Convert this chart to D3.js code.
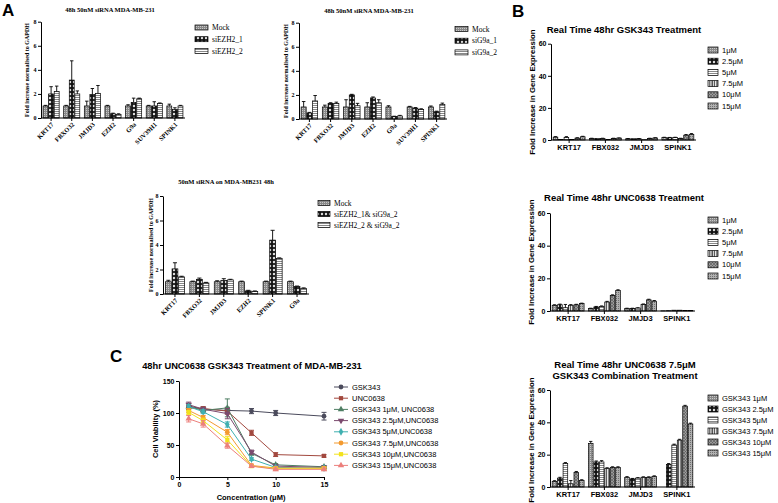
<!DOCTYPE html>
<html><head><meta charset="utf-8">
<script src="https://cdn.jsdelivr.net/npm/d3@7"></script>
<style>body{margin:0;background:#fff}svg{display:block}</style>
</head><body><svg id="c" width="778" height="503"></svg>
<script>
// ---------------- DATA ----------------
// Panel A (top-left)
const a1Cats = ["KRT17","FBXO32","JMJD3","EZH2","G9a","SUV39H1","SPINK1"];
const a1Series = ["Mock","siEZH2_1","siEZH2_2"];
const a1Vals = [
  [1.0,1.0,1.0,1.0,1.0,1.0,1.0],
  [2.0,3.15,1.95,0.35,1.3,1.0,0.7],
  [2.2,2.0,2.05,0.3,1.6,1.2,1.0]];
const a1Errs = [
  [0.05,0.05,0.4,0.05,0.1,0.05,0.15],
  [0.6,1.6,0.5,0.05,0.35,0.35,0.15],
  [0.45,0.25,0.65,0.05,0.05,0.05,0.05]];
// Panel A (top-right)
const a2Cats = ["KRT17","FBXO32","JMJD3","EZH2","G9a","SUV39H1","SPINK1"];
const a2Series = ["Mock","siG9a_1","siG9a_2"];
const a2Vals = [
  [1.0,1.0,1.0,1.0,1.0,1.0,1.0],
  [0.5,1.3,2.0,1.75,0.2,0.9,0.6],
  [1.5,1.3,1.1,1.35,0.25,0.8,1.2]];
const a2Errs = [
  [0.45,0.15,0.6,0.35,0.1,0.05,0.08],
  [0.05,0.05,0.05,0.08,0.03,0.05,0.05],
  [0.45,0.1,0.2,0.25,0.05,0.05,0.12]];
// Panel A (bottom)
const a3Cats = ["KRT17","FBXO32","JMJD3","EZH2","SPINK1","G9a"];
const a3Series = ["Mock","siEZH2_1& siG9a_2","siEZH2_2 & siG9a_2"];
const a3Vals = [
  [1.0,1.0,1.0,1.0,1.0,1.0],
  [2.05,1.2,1.1,0.25,4.4,0.6],
  [1.4,0.9,1.15,0.2,2.9,0.45]];
const a3Errs = [
  [0.12,0.05,0.08,0.05,0.05,0.05],
  [0.5,0.1,0.15,0.05,0.8,0.05],
  [0.05,0.05,0.05,0.05,0.05,0.05]];
const aTicks = [0,2,4,6,8];
// Panel B
const bCats = ["KRT17","FBX032","JMJD3","SPINK1"];
const bDoses = ["1μM","2.5μM","5μM","7.5μM","10μM","15μM"];
const bComboNames = ["GSK343 1μM","GSK343 2.5μM","GSK343 5μM","GSK343 7.5μM","GSK343 10μM","GSK343 15μM"];
const bGskVals = [
  [1.8,1.0,0.8,1.5],[0.3,1.0,0.8,1.4],[1.6,1.0,0.8,1.5],
  [0.3,0.3,0.2,1.0],[1.2,1.0,1.0,3.0],[2.0,1.2,1.3,3.5]];
const bGskErrs = [
  [0.3,0.1,0.1,0.2],[0,0,0,0.2],[0.5,0.1,0.1,0.2],
  [0,0,0,0.1],[0.2,0.1,0.1,0.4],[0.3,0.1,0.1,0.5]];
const bUncVals = [
  [3.5,1.5,1.5,0.1],[3.8,2.5,1.5,0.2],[2.0,2.8,1.8,0.5],
  [3.5,5.5,4.0,0.5],[3.8,9.5,6.8,0.4],[4.5,12.5,6.0,0.3]];
const bUncErrs = [
  [0.3,0.2,0.2,0],[0.4,0.3,0.2,0],[2.0,0.3,0.2,0],
  [0.4,0.4,0.3,0],[0.3,0.4,0.4,0],[0.3,0.5,0.4,0]];
const bComboVals = [
  [3.5,27,6.0,0],[5.5,15.5,5.0,14],[14.5,15.5,5.5,26],
  [2.0,11.5,6.0,29],[9.0,12,6.0,50],[4.0,12,6.5,39]];
const bComboErrs = [
  [0.4,1.2,0.4,0],[0.5,0.6,0.3,0.5],[0.6,0.8,0.3,0.5],
  [2.0,0.4,0.3,0.5],[0.6,0.5,0.3,0.5],[0.5,0.5,0.4,0.5]];
const bTicks = [0,20,40,60];
// Panel C
const cConc = [1,2.5,5,7.5,10,15];
const cNames = ["GSK343","UNC0638","GSK343 1μM, UNC0638","GSK343 2.5μM,UNC0638","GSK343 5μM,UNC0638","GSK343 7.5μM,UNC0638","GSK343 10μM,UNC0638","GSK343 15μM,UNC0638"];
const cVals = [
  [111,106,104,103,100,95],
  [108,107,103,69,35,33],
  [110,104,108,37,19,16],
  [113,106,99,39,17,15],
  [110,102,82,28,15,14],
  [104,93,70,18,14,14],
  [101,88,58,17,13,13],
  [91,83,49,17,12,12]];
const cErrs = [
  [4,3,5,4,4,6],
  [3,3,5,4,3,2],
  [4,3,14,3,2,2],
  [4,3,8,3,2,2],
  [3,3,4,2,2,2],
  [3,3,4,2,2,2],
  [3,4,5,2,2,2],
  [5,5,4,2,2,2]];
const cColors = ["#4b4b5c","#a2483e","#4e7e63","#7b4a6e","#3fb0b0","#f39a2f","#f2e21c","#ec7f7b"];
const cShapes = ["circle","square","triangle","triDown","diamond","circle","square","triangle"];
const cXTicks = [0,5,10,15];
const cYTicks = [0,50,100,150];

// ---------------- DRAWING ----------------
const svg = d3.select("#c");
const defs = svg.append("defs");
function pat(id, w, h, bg, draw){
  const p = defs.append("pattern").attr("id",id).attr("patternUnits","userSpaceOnUse").attr("width",w).attr("height",h);
  p.append("rect").attr("width",w).attr("height",h).attr("fill",bg);
  draw(p);
}
pat("pDot",2,2,"#8a8a8a",p=>p.append("rect").attr("x",0).attr("y",0).attr("width",1).attr("height",1).attr("fill","#c8c8c8"));
pat("pChk",4,4,"#111",p=>{p.append("path").attr("d","M0.6,2 L2,0.6 L3.4,2 L2,3.4 Z").attr("fill","#fff");});
pat("pH",2,2,"#fff",p=>p.append("rect").attr("x",0).attr("y",1).attr("width",2).attr("height",1).attr("fill","#888"));
pat("pV",2.4,2,"#fff",p=>p.append("rect").attr("x",1.2).attr("y",0).attr("width",1.1).attr("height",2).attr("fill","#222"));
pat("pX",3,3,"#9a9a9a",p=>{p.append("path").attr("d","M0,0L3,3M3,0L0,3").attr("stroke","#555").attr("stroke-width",0.6);});
pat("pDot2",2,2,"#b0b0b0",p=>p.append("rect").attr("x",0).attr("y",0).attr("width",1).attr("height",1).attr("fill","#707070"));
const aPats = ["pDot","pChk","pH"];
const bPats = ["pDot","pChk","pH","pV","pX","pDot2"];

const SERIF = "'Liberation Serif','DejaVu Serif',serif";
const SANS = "'Liberation Sans',Arial,sans-serif";

function txt(x,y,s,size,opts={}){
  const t = svg.append("text").attr("x",x).attr("y",y).text(s)
    .attr("font-family",opts.font||SANS).attr("font-size",size)
    .attr("font-weight",opts.weight||"bold").attr("text-anchor",opts.anchor||"middle").attr("fill","#000");
  if(opts.rotate) t.attr("transform",`rotate(${opts.rotate},${x},${y})`);
  return t;
}

function drawBars(o){
  const g = svg.append("g");
  const x = d3.scaleBand().domain(o.cats).range([o.left,o.right]).paddingInner(o.padIn).paddingOuter(o.padOut);
  const xi = d3.scaleBand().domain(d3.range(o.vals.length)).range([0,x.bandwidth()]).paddingInner(o.barPad);
  const y = d3.scaleLinear().domain([0,o.yMax]).range([o.bottom,o.top]);
  o.vals.forEach((arr,si)=>arr.forEach((v,ci)=>{
    if(v==null||v<=0) return;
    const bx = x(o.cats[ci])+xi(si), bw = xi.bandwidth();
    g.append("rect").attr("x",bx).attr("y",y(v)).attr("width",bw).attr("height",y(0)-y(v))
      .attr("fill",`url(#${o.pats[si]})`).attr("stroke","#000").attr("stroke-width",0.7);
    const e = o.errs ? o.errs[si][ci] : 0;
    if(e>0){
      const cx = bx+bw/2;
      g.append("line").attr("x1",cx).attr("x2",cx).attr("y1",y(v)).attr("y2",y(v+e)).attr("stroke","#000").attr("stroke-width",0.9);
      g.append("line").attr("x1",cx-bw*0.35).attr("x2",cx+bw*0.35).attr("y1",y(v+e)).attr("y2",y(v+e)).attr("stroke","#000").attr("stroke-width",0.9);
    }
  }));
  const ya = g.append("g").attr("transform",`translate(${o.left},0)`)
    .call(d3.axisLeft(y).tickValues(o.ticks).tickSize(3).tickSizeOuter(0).tickPadding(1.5));
  ya.selectAll("text").attr("font-family",o.font).attr("font-size",o.tickSize).attr("font-weight","bold");
  const xa = g.append("g").attr("transform",`translate(0,${o.bottom})`)
    .call(d3.axisBottom(x).tickSize(3).tickSizeOuter(0).tickPadding(2));
  xa.select(".domain").attr("d",`M${o.left},0H${o.right}`);
  xa.selectAll("text").attr("font-family",o.font).attr("font-size",o.catSize).attr("font-weight","bold");
  if(o.rotate){
    xa.selectAll("text").attr("text-anchor","end").attr("dy","0").attr("y",0)
      .attr("transform","translate(3,7) rotate(-45)");
  }
  g.selectAll(".domain, .tick line").attr("stroke","#000").attr("stroke-width",1);
  return {x,y};
}

function legendBars(x,y0,dy,names,pats,font,size,sw,sh){
  names.forEach((n,i)=>{
    const y = y0+i*dy;
    svg.append("rect").attr("x",x).attr("y",y-sh/2).attr("width",sw).attr("height",sh)
      .attr("fill",`url(#${pats[i]})`).attr("stroke","#000").attr("stroke-width",0.7);
    txt(x+sw+4,y+size*0.35,n,size,{font:font,weight:"normal",anchor:"start"});
  });
}

// ---- Panel labels ----
txt(2,16,"A",17,{anchor:"start"});
txt(512,17,"B",17,{anchor:"start"});
txt(110,362,"C",17,{anchor:"start"});

// ---- A1 ----
const aCommon = {yMax:8,ticks:aTicks,padIn:0.22,padOut:0.1,barPad:0.12,pats:aPats,font:SERIF,tickSize:6,catSize:6.5,rotate:true};
drawBars(Object.assign({},aCommon,{cats:a1Cats,vals:a1Vals,errs:a1Errs,left:41,right:185,bottom:118,top:21.7}));
txt(110,12,"48h 50nM siRNA MDA-MB-231",6.5,{font:SERIF});
txt(29,70,"Fold increase normalised to GAPDH",6,{font:SERIF,rotate:-90});
legendBars(195,27.5,11.7,a1Series,aPats,SERIF,7.5,13,5);

// ---- A2 ----
drawBars(Object.assign({},aCommon,{cats:a2Cats,vals:a2Vals,errs:a2Errs,left:299,right:447,bottom:119,top:22.7}));
txt(369,13,"48h 50nM siRNA MDA-MB-231",6.5,{font:SERIF});
txt(288,71,"Fold increase normalised to GAPDH",6,{font:SERIF,rotate:-90});
legendBars(455,29,11.7,a2Series,aPats,SERIF,7.5,13,5);

// ---- A3 ----
drawBars(Object.assign({},aCommon,{cats:a3Cats,vals:a3Vals,errs:a3Errs,left:163,right:309,bottom:294,top:196}));
txt(226,184,"50nM siRNA on MDA-MB231 48h",6.5,{font:SERIF});
txt(153,245,"Fold increase normalised to GAPDH",6,{font:SERIF,rotate:-90});
legendBars(318,203,11,a3Series,aPats,SERIF,7.5,12,5);

// ---- B ----
const bCommon = {cats:bCats,yMax:60,ticks:bTicks,padIn:0.12,padOut:0.06,barPad:0.15,pats:bPats,font:SANS,tickSize:7,catSize:7.5,rotate:false};
drawBars(Object.assign({},bCommon,{vals:bGskVals,errs:bGskErrs,left:551,right:696,bottom:140,top:43.7}));
txt(624,33,"Real Time 48hr GSK343 Treatment",9.5);
txt(535,92,"Fold Increase in Gene Expression",7.8,{rotate:-90});
legendBars(708,50,11.2,bDoses,bPats,SANS,7.5,10,6);

drawBars(Object.assign({},bCommon,{vals:bUncVals,errs:bUncErrs,left:550,right:695,bottom:311,top:213}));
txt(624,201,"Real Time 48hr UNC0638 Treatment",9.5);
txt(534,262,"Fold Increase in Gene Expression",7.8,{rotate:-90});
legendBars(708,220,11.2,bDoses,bPats,SANS,7.5,10,6);

drawBars(Object.assign({},bCommon,{vals:bComboVals,errs:bComboErrs,left:550,right:695,bottom:487,top:390}));
txt(625,368,"Real Time 48hr UNC0638 7.5μM",9.5);
txt(625,379,"GSK343 Combination Treatment",9.5);
txt(534,440,"Fold Increase in Gene Expression",7.8,{rotate:-90});
legendBars(708,398,11,bComboNames,bPats,SANS,7.5,10,6);

// ---- C ----
const cx = d3.scaleLinear().domain([0,15]).range([179,324]);
const cy = d3.scaleLinear().domain([0,150]).range([477,381]);
const gC = svg.append("g");
const symType = {circle:d3.symbolCircle,square:d3.symbolSquare,triangle:d3.symbolTriangle,triDown:d3.symbolTriangle,diamond:d3.symbolDiamond};
function marker(g,x,y,shape,color,size){
  g.append("path").attr("d",d3.symbol().type(symType[shape]).size(size)())
    .attr("transform",`translate(${x},${y})${shape==="triDown"?" rotate(180)":""}`)
    .attr("fill",color);
}
const line = d3.line().x((d,i)=>cx(cConc[i])).y(d=>cy(d));
cVals.forEach((vals,si)=>{
  const col = cColors[si];
  gC.append("path").datum(vals).attr("d",line).attr("fill","none").attr("stroke",col).attr("stroke-width",1);
  vals.forEach((v,i)=>{
    const e = cErrs[si][i], X = cx(cConc[i]);
    gC.append("line").attr("x1",X).attr("x2",X).attr("y1",cy(v-e)).attr("y2",cy(v+e)).attr("stroke",col).attr("stroke-width",1);
    [v-e,v+e].forEach(w=>gC.append("line").attr("x1",X-2.5).attr("x2",X+2.5).attr("y1",cy(w)).attr("y2",cy(w)).attr("stroke",col).attr("stroke-width",1));
    marker(gC,X,cy(v),cShapes[si],col,18);
  });
});
const cya = gC.append("g").attr("transform","translate(179,0)")
  .call(d3.axisLeft(cy).tickValues(cYTicks).tickSize(3).tickSizeOuter(0).tickPadding(1.5));
const cxa = gC.append("g").attr("transform","translate(0,477)")
  .call(d3.axisBottom(cx).tickValues(cXTicks).tickSize(3).tickSizeOuter(0).tickPadding(2));
gC.selectAll("text").attr("font-family",SANS).attr("font-size",7).attr("font-weight","bold");
gC.selectAll(".domain, .tick line").attr("stroke","#000").attr("stroke-width",1);
txt(252,369,"48hr UNC0638 GSK343 Treatment of MDA-MB-231",9.3);
txt(251,500,"Concentration (μM)",7.5);
txt(158,429,"Cell Viability (%)",7.5,{rotate:-90});
cNames.forEach((n,i)=>{
  const y = 387+i*11.2;
  svg.append("line").attr("x1",334).attr("x2",348).attr("y1",y).attr("y2",y).attr("stroke",cColors[i]).attr("stroke-width",1);
  marker(svg,341,y,cShapes[i],cColors[i],18);
  txt(352,y+2.6,n,7.5,{weight:"normal",anchor:"start"});
});
</script></body></html>
